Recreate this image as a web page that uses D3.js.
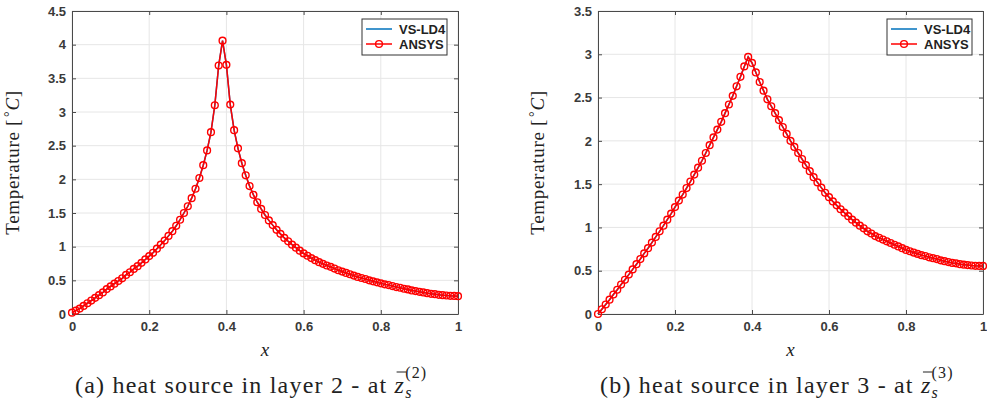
<!DOCTYPE html>
<html>
<head>
<meta charset="utf-8">
<script src="https://cdn.jsdelivr.net/npm/d3@7/dist/d3.min.js"></script>
<style>
  body { margin: 0; background: #fff; }
  svg { display: block; }
</style>
</head>
<body>
<script>
// sample positions along x (ANSYS output every 0.01)
var xSamples = d3.range(0, 101).map(function (i) { return i / 100; });

// (a) heat source in layer 2
var ansysA = [
  0.02, 0.05, 0.08, 0.12, 0.16, 0.20, 0.24, 0.28, 0.32, 0.37,
  0.41, 0.45, 0.49, 0.53, 0.58, 0.62, 0.67, 0.71, 0.76, 0.81,
  0.86, 0.91, 0.97, 1.03, 1.09, 1.16, 1.23, 1.31, 1.40, 1.50,
  1.60, 1.72, 1.86, 2.02, 2.21, 2.43, 2.70, 3.10, 3.69, 4.06,
  3.70, 3.11, 2.73, 2.46, 2.24, 2.06, 1.90, 1.77, 1.66, 1.56,
  1.47, 1.39, 1.32, 1.25, 1.19, 1.13, 1.08, 1.03, 0.985, 0.94,
  0.90, 0.865, 0.83, 0.80, 0.77, 0.745, 0.72, 0.70, 0.675, 0.65,
  0.63, 0.61, 0.59, 0.57, 0.55, 0.535, 0.52, 0.50, 0.485, 0.47,
  0.455, 0.44, 0.43, 0.415, 0.40, 0.39, 0.375, 0.365, 0.35, 0.34,
  0.33, 0.32, 0.31, 0.30, 0.295, 0.285, 0.28, 0.275, 0.27, 0.268,
  0.265
];
// VS-LD4 coincides with ANSYS at plotting resolution
var vsld4A = ansysA.slice();

// (b) heat source in layer 3
var ansysB = [
  0.00, 0.055, 0.11, 0.165, 0.225, 0.28, 0.34, 0.395, 0.455, 0.515,
  0.575, 0.635, 0.70, 0.76, 0.825, 0.89, 0.955, 1.02, 1.09, 1.16,
  1.235, 1.31, 1.38, 1.455, 1.53, 1.61, 1.69, 1.77, 1.86, 1.95,
  2.04, 2.13, 2.22, 2.32, 2.42, 2.52, 2.63, 2.74, 2.86, 2.97,
  2.90, 2.79, 2.68, 2.58, 2.48, 2.40, 2.32, 2.24, 2.16, 2.08,
  2.00, 1.93, 1.86, 1.79, 1.72, 1.65, 1.58, 1.52, 1.46, 1.40,
  1.35, 1.30, 1.255, 1.21, 1.17, 1.13, 1.09, 1.055, 1.02, 0.99,
  0.955, 0.93, 0.90, 0.88, 0.86, 0.84, 0.82, 0.80, 0.78, 0.76,
  0.74, 0.725, 0.71, 0.695, 0.68, 0.67, 0.655, 0.645, 0.635, 0.62,
  0.61, 0.60, 0.59, 0.585, 0.575, 0.57, 0.565, 0.56, 0.557, 0.555,
  0.555
];
var vsld4B = ansysB.slice();

var xTicks = [0, 0.2, 0.4, 0.6, 0.8, 1];
var yTicksA = [0, 0.5, 1, 1.5, 2, 2.5, 3, 3.5, 4, 4.5];
var yTicksB = [0, 0.5, 1, 1.5, 2, 2.5, 3, 3.5];
var seriesNames = ["VS-LD4", "ANSYS"];
var captions = [
  { label: "(a) heat source in layer 2 - at ", layer: "2" },
  { label: "(b) heat source in layer 3 - at ", layer: "3" }
];

var width = 987, height = 408;
var blue = "#0072BD", red = "#FF0000";
var axisColor = "#4a4a4a", gridColor = "#e6e6e6";
var sansFont = "'Liberation Sans', Arial, Helvetica, sans-serif";
var serifFont = "'Liberation Serif', 'DejaVu Serif', serif";

var svg = d3.select("body").append("svg")
  .attr("width", width)
  .attr("height", height);

var panels = [
  { left: 72, right: 458, top: 11, bottom: 314, yMax: 4.5, yTicks: yTicksA,
    vs: vsld4A, an: ansysA, cap: captions[0], yLabelX: 19, capX: 75 },
  { left: 598, right: 983, top: 11, bottom: 314, yMax: 3.5, yTicks: yTicksB,
    vs: vsld4B, an: ansysB, cap: captions[1], yLabelX: 544, capX: 600 }
];

panels.forEach(function (p) {
  var x = d3.scaleLinear().domain([0, 1]).range([p.left, p.right]);
  var y = d3.scaleLinear().domain([0, p.yMax]).range([p.bottom, p.top]);
  var g = svg.append("g");

  // grid
  g.selectAll("line.gx").data(xTicks).enter().append("line")
    .attr("x1", function (d) { return x(d); }).attr("x2", function (d) { return x(d); })
    .attr("y1", p.top).attr("y2", p.bottom)
    .style("stroke", gridColor).style("stroke-width", 1);
  g.selectAll("line.gy").data(p.yTicks).enter().append("line")
    .attr("y1", function (d) { return y(d); }).attr("y2", function (d) { return y(d); })
    .attr("x1", p.left).attr("x2", p.right)
    .style("stroke", gridColor).style("stroke-width", 1);

  // axes (MATLAB style, ticks inward, box)
  var xAxis = d3.axisBottom(x).tickValues(xTicks).tickSizeInner(-4).tickSizeOuter(0)
    .tickPadding(8).tickFormat(d3.format("~g"));
  var yAxis = d3.axisLeft(y).tickValues(p.yTicks).tickSizeInner(-4).tickSizeOuter(0)
    .tickPadding(6).tickFormat(d3.format("~g"));
  var xTop = d3.axisTop(x).tickValues(xTicks).tickSizeInner(-4).tickSizeOuter(0).tickFormat("");
  var yRight = d3.axisRight(y).tickValues(p.yTicks).tickSizeInner(-4).tickSizeOuter(0).tickFormat("");

  [
    g.append("g").attr("transform", "translate(0," + p.bottom + ")").call(xAxis),
    g.append("g").attr("transform", "translate(" + p.left + ",0)").call(yAxis),
    g.append("g").attr("transform", "translate(0," + p.top + ")").call(xTop),
    g.append("g").attr("transform", "translate(" + p.right + ",0)").call(yRight)
  ].forEach(function (a) {
    a.select(".domain").style("stroke", axisColor).style("stroke-width", 1);
    a.selectAll(".tick line").style("stroke", axisColor).style("stroke-width", 1);
    a.selectAll(".tick text")
      .style("font-family", sansFont).style("font-size", "13px")
      .style("font-weight", "bold").style("fill", "#3a3a3a");
  });

  // data
  var line = d3.line()
    .x(function (d, i) { return x(xSamples[i]); })
    .y(function (d) { return y(d); });

  g.append("path").datum(p.vs).attr("d", line)
    .style("fill", "none").style("stroke", blue).style("stroke-width", 1.5);
  g.append("path").datum(p.an).attr("d", line)
    .style("fill", "none").style("stroke", red).style("stroke-width", 1.5);
  g.selectAll("circle.m").data(p.an).enter().append("circle")
    .attr("cx", function (d, i) { return x(xSamples[i]); })
    .attr("cy", function (d) { return y(d); })
    .attr("r", 3.4)
    .style("fill", "none").style("stroke", red).style("stroke-width", 1.4);

  // legend
  var lg = g.append("g").attr("transform", "translate(" + (p.right - 96) + "," + (p.top + 8) + ")");
  lg.append("rect").attr("width", 85).attr("height", 36)
    .style("fill", "#fff").style("stroke", "#333").style("stroke-width", 1);
  seriesNames.forEach(function (name, i) {
    var ly = 10 + i * 15;
    lg.append("line").attr("x1", 4).attr("x2", 30).attr("y1", ly).attr("y2", ly)
      .style("stroke", i === 0 ? blue : red).style("stroke-width", 1.5);
    if (i === 1) {
      lg.append("circle").attr("cx", 17).attr("cy", ly).attr("r", 3.4)
        .style("fill", "none").style("stroke", red).style("stroke-width", 1.4);
    }
    lg.append("text").attr("x", 37).attr("y", ly + 4.5).text(name)
      .style("font-family", sansFont).style("font-size", "13px")
      .style("font-weight", "bold").style("fill", "#222");
  });

  // y label
  var yl = g.append("text")
    .attr("transform", "translate(" + p.yLabelX + "," + ((p.top + p.bottom) / 2) + ") rotate(-90)")
    .attr("text-anchor", "middle")
    .style("font-family", serifFont).style("font-size", "19px")
    .style("letter-spacing", "0.7px").style("fill", "#222");
  yl.append("tspan").text("Temperature [");
  yl.append("tspan").text("°").attr("font-size", "14px").attr("dy", -5).attr("dx", 2);
  yl.append("tspan").text("C").style("font-style", "italic").attr("dy", 5);
  yl.append("tspan").text("]");

  // x label
  g.append("text").attr("x", (p.left + p.right) / 2).attr("y", 356)
    .attr("text-anchor", "middle").text("x")
    .style("font-family", serifFont).style("font-size", "19px")
    .style("font-style", "italic").style("fill", "#222");

  // caption
  var cap = g.append("text").attr("x", p.capX).attr("y", 393)
    .style("font-family", serifFont).style("font-size", "24px")
    .style("letter-spacing", "1.2px").style("fill", "#222");
  cap.append("tspan").text(p.cap.label);
  cap.append("tspan").text("z").style("font-style", "italic");
  cap.append("tspan").text("s").style("font-style", "italic").attr("font-size", "16px").attr("dy", 5);
  var sup = cap.append("tspan").text("(" + p.cap.layer + ")").attr("font-size", "16px").attr("dy", -20);

  var zi = p.cap.label.length;
  var n = cap.node();
  var zs = n.getStartPositionOfChar(zi), ze = n.getEndPositionOfChar(zi);
  var ss = n.getStartPositionOfChar(zi + 1);
  sup.attr("x", ss.x);

  // bar over z
  g.append("line").attr("x1", zs.x + 2).attr("x2", ze.x + 1)
    .attr("y1", 372).attr("y2", 372)
    .style("stroke", "#222").style("stroke-width", 1);
});
</script>
</body>
</html>
